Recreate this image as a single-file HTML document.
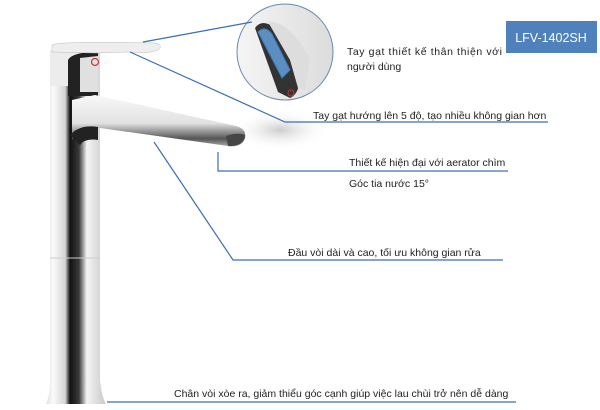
<!DOCTYPE html>
<html><head><meta charset="utf-8"><style>
html,body{margin:0;padding:0;background:#fff;}
svg{display:block}
text{font-family:"Liberation Sans",sans-serif;font-size:10.5px;fill:#222}
</style></head><body>
<svg width="600" height="410" viewBox="0 0 600 410" xmlns="http://www.w3.org/2000/svg">
<defs>
<linearGradient id="col" x1="0" x2="1" y1="0" y2="0">
<stop offset="0" stop-color="#e0e0e0"/><stop offset="0.12" stop-color="#fafafa"/>
<stop offset="0.32" stop-color="#d5d5d5"/><stop offset="0.4" stop-color="#111"/>
<stop offset="0.55" stop-color="#3a3a3a"/><stop offset="0.68" stop-color="#f4f4f4"/>
<stop offset="1" stop-color="#c8c8c8"/></linearGradient>
<linearGradient id="sp" x1="0" x2="0" y1="0" y2="1">
<stop offset="0" stop-color="#f8f8f8"/><stop offset="0.55" stop-color="#e2e2e2"/><stop offset="0.85" stop-color="#555"/><stop offset="1" stop-color="#aaa"/></linearGradient>
<radialGradient id="sh" cx="0.5" cy="0.5" r="0.5"><stop offset="0" stop-color="#ccc"/><stop offset="1" stop-color="#fff" stop-opacity="0"/></radialGradient>
<linearGradient id="cir" x1="0" x2="1"><stop offset="0" stop-color="#f5f5f5"/><stop offset="1" stop-color="#dcdcdc"/></linearGradient>
</defs>
<ellipse cx="280" cy="130" rx="50" ry="20" fill="url(#sh)"/>
<path d="M50 50 L100 50 L100 380 Q102 398 106 404 L46 404 Q50 395 50 380 Z" fill="url(#col)"/>
<line x1="50" y1="258" x2="100" y2="258" stroke="#ccc" stroke-width="1"/>
<rect x="50" y="50" width="44" height="36" fill="#ececec"/>
<path d="M68 60 Q72 52 98 52 L98 96 L68 96 Z" fill="#222"/>
<path d="M80 58 L98 56 L98 92 L80 92 Z" fill="#e0e0e0"/>
<circle cx="95" cy="62" r="3.5" fill="none" stroke="#c33" stroke-width="1.2"/>
<path d="M52 45 Q60 41 155 43 Q164 45 158 50 Q150 54 130 52 L95 53 L52 52 Z" fill="#eee" stroke="#bbb" stroke-width="0.5"/>
<path d="M95 95 L236 126 Q247 129 245 138 Q242 148 228 146 L100 128 Q85 125 75 135 L72 140 L72 100 Z" fill="url(#sp)"/>
<path d="M226 136 Q238 132 245 135 Q243 147 228 146 Z" fill="#444"/>
<path d="M70 135 Q80 124 98 127 L98 140 Q85 138 80 145 Z" fill="#222"/>
<circle cx="285" cy="52" r="48" fill="url(#cir)" stroke="#6a88b0" stroke-width="1"/>
<path d="M255 28 Q262 18 275 28 L300 80 Q298 95 290 98 L278 92 Z" fill="#333"/>
<path d="M258 32 Q265 25 272 34 L290 70 L282 78 Z" fill="#5a8fc0" stroke="#3a7ac0"/>
<path d="M268 22 Q290 20 310 60 L305 90 L298 88 L290 60 Z" fill="#ddd"/>
<circle cx="291" cy="93" r="3" fill="none" stroke="#c33" stroke-width="1"/>
<g stroke="#3b6fb6" stroke-width="1.2" fill="none">
<polyline points="143,42 252,22"/>
<polyline points="130,52 285,122 548,122"/>
<polyline points="218,152 218,171 508,171"/>
<polyline points="154,142 233,260 503,260"/>
<polyline points="107,402 516,402"/>
</g>
<rect x="506" y="21" width="91" height="32" fill="#4f81bd"/>
<text x="551" y="42" text-anchor="middle" style="fill:#fff;font-size:12.5px">LFV-1402SH</text>
<text x="347" y="55" textLength="155">Tay gạt thiết kế thân thiện với</text>
<text x="347" y="70">người dùng</text>
<text x="313" y="119">Tay gạt hướng lên 5 độ, tạo nhiều không gian hơn</text>
<text x="349" y="166">Thiết kế hiện đại với aerator chìm</text>
<text x="349" y="187">Góc tia nước 15°</text>
<text x="288" y="256">Đầu vòi dài và cao, tối ưu không gian rửa</text>
<text x="174" y="397">Chân vòi xòe ra, giảm thiểu góc cạnh giúp việc lau chùi trở nên dễ dàng</text>
</svg>
</body></html>
